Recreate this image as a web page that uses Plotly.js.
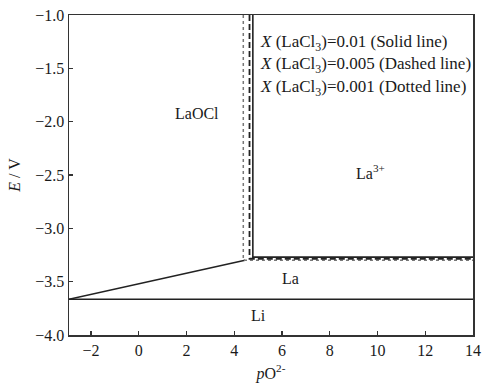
<!DOCTYPE html>
<html>
<head>
<meta charset="utf-8">
<script src="https://cdn.plot.ly/plotly-3.0.1.min.js"></script>
<style>html,body{margin:0;padding:0;background:#fff;}</style>
</head>
<body>
<div id="chart" style="width:485px;height:388px;"></div>
<script>
// Predominance diagram of La species in LiCl melt: E vs pO2-
const xMin = -2.92, xMax = 14;
// Li deposition potential
const liX = [xMin, xMax];
const liE = [-3.665, -3.665];
// LaOCl / La boundary (sloped)
const slopeX = [xMin, 4.45];
const slopeE = [-3.665, -3.30];
// LaOCl / La3+ and La3+ / La boundaries for each LaCl3 fraction
const solidX = [4.78, 4.78, xMax];
const solidE = [-1.0, -3.27, -3.27];
const dashedX = [4.64, 4.64, xMax];
const dashedE = [-1.0, -3.285, -3.285];
const dottedX = [4.38, 4.38, xMax];
const dottedE = [-1.0, -3.30, -3.30];

const legendLines = [
  '<i>X</i> (LaCl<sub>3</sub>)=0.01 (Solid line)',
  '<i>X</i> (LaCl<sub>3</sub>)=0.005 (Dashed line)',
  '<i>X</i> (LaCl<sub>3</sub>)=0.001 (Dotted line)'
];
const legendY = [-1.26, -1.47, -1.68];

const regionText = ['LaOCl', 'La<sup>3+</sup>', 'La', 'Li'];
const regionX = [2.45, 9.7, 6.35, 5.0];
const regionY = [-1.92, -2.47, -3.47, -3.82];

const ln = (x, y, dash, w) => ({
  x: x, y: y, type: 'scatter', mode: 'lines', hoverinfo: 'skip',
  line: {color: dash === 'dot' ? '#777' : '#222', width: w, dash: dash}
});

const traces = [
  ln(liX, liE, 'solid', 1.4),
  ln(slopeX, slopeE, 'solid', 1.6),
  ln(dottedX, dottedE, 'dot', 1.5),
  ln(dashedX, dashedE, '6px,3px', 1.8),
  ln(solidX, solidE, 'solid', 1.6)
];

const font = {family: 'Liberation Serif', color: '#1a1a1a'};
const annotations = [];
legendLines.forEach((t, i) => annotations.push({
  x: 5.0, y: legendY[i], xref: 'x', yref: 'y', text: t, showarrow: false,
  xanchor: 'left', yanchor: 'middle', font: Object.assign({size: 17}, font)
}));
regionText.forEach((t, i) => annotations.push({
  x: regionX[i], y: regionY[i], xref: 'x', yref: 'y', text: t, showarrow: false,
  xanchor: 'center', yanchor: 'middle', font: Object.assign({size: 16}, font)
}));

const axisCommon = {
  showgrid: false, zeroline: false, showline: true, mirror: true,
  linecolor: '#333', linewidth: 1.5, ticks: 'inside', ticklen: 4,
  tickcolor: '#333', tickwidth: 1.2,
  tickfont: Object.assign({size: 16}, font)
};

const layout = {
  width: 485, height: 388,
  margin: {l: 69, r: 12, t: 15, b: 53},
  paper_bgcolor: '#fff', plot_bgcolor: '#fff',
  showlegend: false,
  xaxis: Object.assign({}, axisCommon, {
    range: [xMin, xMax], tickvals: [-2, 0, 2, 4, 6, 8, 10, 12, 14],
    ticktext: ['\u22122', '0', '2', '4', '6', '8', '10', '12', '14'],
    title: {text: '<i>p</i>O<sup>2-</sup>', font: Object.assign({size: 16}, font), standoff: 10}
  }),
  yaxis: Object.assign({}, axisCommon, {
    range: [-4.0, -1.0], tickvals: [-4, -3.5, -3, -2.5, -2, -1.5, -1],
    ticktext: ['\u22124.0', '\u22123.5', '\u22123.0', '\u22122.5', '\u22122.0', '\u22121.5', '\u22121.0'],
    title: {text: '<i>E</i> / V', font: Object.assign({size: 16}, font), standoff: 10}
  }),
  annotations: annotations
};

Plotly.newPlot('chart', traces, layout, {displayModeBar: false, staticPlot: true});
</script>
</body>
</html>
